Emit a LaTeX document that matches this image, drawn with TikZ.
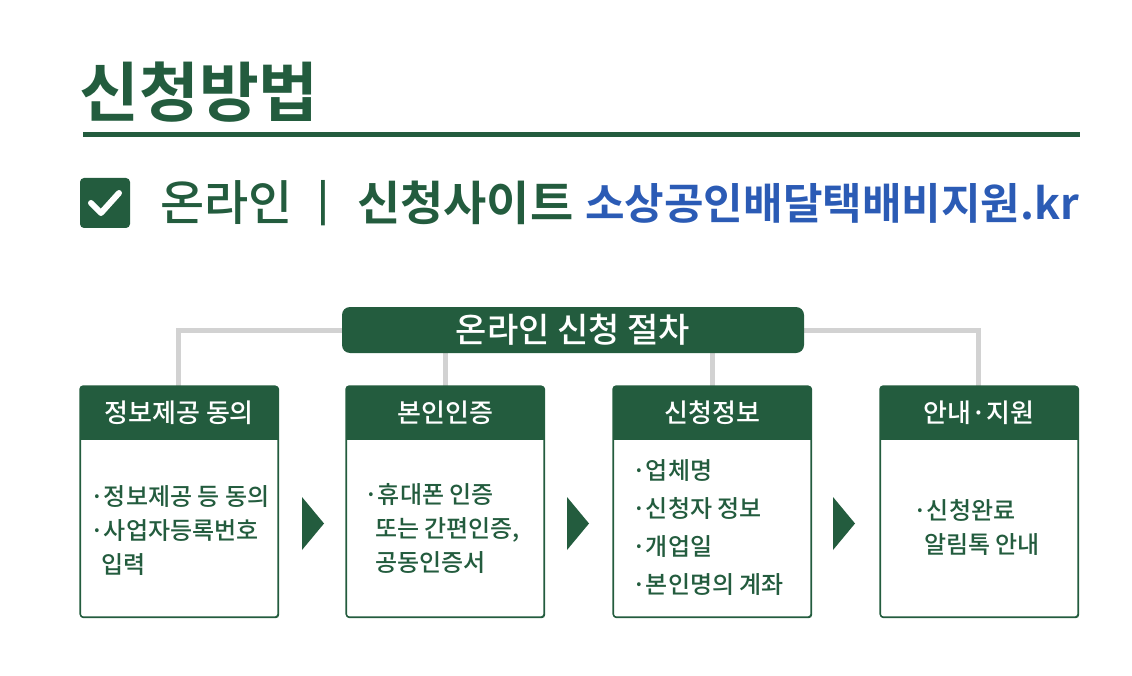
\documentclass[tikz,border=0pt]{standalone}
\usepackage{fontspec}
\setmainfont{Noto Sans CJK KR Medium}
\newfontfamily\kb{Noto Sans CJK KR Bold}
\definecolor{dg}{HTML}{235C3E}
\definecolor{bl}{HTML}{2B5BB5}
\definecolor{gr}{HTML}{D2D2D2}
\begin{document}
\begin{tikzpicture}[x=1pt,y=-1pt,
  stepbox/.style={draw=dg,line width=1.2pt,rounded corners=3pt,minimum width=198pt,minimum height=231pt,anchor=north west},
  head/.style={fill=dg,text=white,font=\fontsize{26}{30}\selectfont,anchor=north west,minimum width=198pt,minimum height=54pt},
  body/.style={text=dg,font=\fontsize{24}{34}\selectfont,align=left,anchor=west,inner sep=0pt},
  tri/.style={fill=dg}]
\useasboundingbox (0,0) rectangle (1132,676);
\node[anchor=west,text=dg,font=\kb\fontsize{65}{68}\selectfont] (title) at (76,92) {신청방법};
\draw[dg,line width=5pt] (83,135) -- (1080,135);
\node[fill=dg,rounded corners=4pt,minimum size=50pt] (chk) at (105,203) {};
\draw[white,line width=6pt,line cap=round,line join=round] (91,203) -- (101,213) -- (119,193);
\node[anchor=west,text=dg,font=\fontsize{48}{52}\selectfont,inner sep=0pt] (on) at (160,203) {온라인};
\node[text=dg,font=\kb\fontsize{40}{44}\selectfont] (bar) at (323,203) {|};
\node[anchor=west,text=dg,font=\kb\fontsize{47}{52}\selectfont,inner sep=0pt] (site) at (357,203) {신청사이트};
\node[anchor=west,text=bl,font=\kb\fontsize{43}{48}\selectfont,inner sep=0pt] (url) at (585,203) {소상공인배달택배비지원.kr};
% connectors
\draw[gr,line width=5pt] (178,388) -- (178,330) -- (978,330) -- (978,388);
\draw[gr,line width=5pt] (445,330) -- (445,388);
\draw[gr,line width=5pt] (712,330) -- (712,388);
\node[fill=dg,rounded corners=8pt,minimum width=462pt,minimum height=46pt,text=white,font=\fontsize{34}{36}\selectfont] (hdr) at (573,330) {온라인 신청 절차};
% boxes
\foreach \i/\x/\t in {1/80/정보제공 동의,2/346/본인인증,3/613/신청정보,4/880/안내·지원}{
  \node[stepbox,fill=white] (b\i) at (\x,386) {};
  \begin{scope}
  \clip[rounded corners=3pt] (\x,386) rectangle ++(198,231);
  \node[head] (h\i) at (\x,386) {\t};
  \end{scope}
  \draw[dg,line width=1.2pt,rounded corners=3pt] (\x,386) rectangle ++(198,231);
}
\node[body] (t1) at (90,531) {·정보제공 등 동의\\·사업자등록번호\\\ \ 입력};
\node[body] (t2) at (364,528) {·휴대폰 인증\\\ \ 또는 간편인증,\\\ \ 공동인증서};
\node[body,font=\fontsize{24}{38}\selectfont] (t3) at (632,528) {·업체명\\·신청자 정보\\·개업일\\·본인명의 계좌};
\node[body] (t4) at (913,527) {·신청완료\\\ \ 알림톡 안내};
\foreach \x in {302,567,833}{
  \fill[dg] (\x,497) -- (\x+22,523.5) -- (\x,550) -- cycle;
}
\end{tikzpicture}
\end{document}
